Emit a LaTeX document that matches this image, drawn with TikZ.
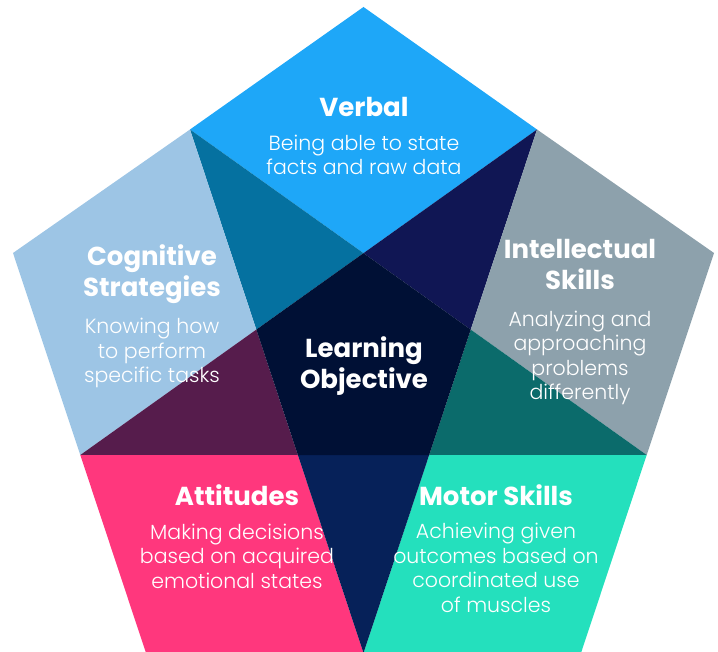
\documentclass[tikz,border=0pt]{standalone}
\usepackage{fontspec}
\setmainfont{Poppins}
\newfontfamily\lightfont{Poppins Light}
\definecolor{cverbal}{HTML}{1EA7F8}
\definecolor{cultl}{HTML}{0571A0}
\definecolor{cultr}{HTML}{101654}
\definecolor{ccog}{HTML}{9DC5E5}
\definecolor{cint}{HTML}{8DA1AC}
\definecolor{ccenter}{HTML}{001035}
\definecolor{cllpurple}{HTML}{561C4C}
\definecolor{clrteal}{HTML}{0B6B6B}
\definecolor{catt}{HTML}{FF377D}
\definecolor{cmot}{HTML}{24E0BD}
\definecolor{cbot}{HTML}{062159}
\tikzset{
  ttl/.style={text=white, font=\bfseries\fontsize{26}{31}\selectfont, align=center, inner sep=0pt},
  body/.style={text=white, font=\lightfont\fontsize{20.5}{24.5}\selectfont, align=center, inner sep=0pt},
}
\begin{document}
\begin{tikzpicture}[x=1pt,y=-1pt]
\useasboundingbox (0,0) rectangle (718,652);
\coordinate (T) at (363.5,7);
\coordinate (PL) at (13,253);
\coordinate (PR) at (714,253);
\coordinate (BL) at (146,653);
\coordinate (BR) at (581,653);
\coordinate (M1) at (190,129.5);
\coordinate (M2) at (537,129.5);
\coordinate (M5) at (80.3,455);
\coordinate (M3) at (646.7,455);
\coordinate (M4) at (363.5,653);
\coordinate (C0) at (intersection of M1--M3 and M2--M5);
\coordinate (L1) at (intersection of M1--M4 and M2--M5);
\coordinate (R1) at (intersection of M2--M4 and M1--M3);
\coordinate (D1) at (intersection of M1--M4 and M5--M3);
\coordinate (D2) at (intersection of M2--M4 and M5--M3);
% regions
\fill[cverbal] (T) -- (M1) -- (C0) -- (M2) -- cycle;
\fill[cultl] (M1) -- (C0) -- (L1) -- cycle;
\fill[cultr] (M2) -- (C0) -- (R1) -- cycle;
\fill[ccog] (PL) -- (M1) -- (L1) -- (M5) -- cycle;
\fill[cint] (PR) -- (M2) -- (R1) -- (M3) -- cycle;
\fill[cllpurple] (M5) -- (L1) -- (D1) -- cycle;
\fill[clrteal] (M3) -- (R1) -- (D2) -- cycle;
\fill[catt] (M5) -- (D1) -- (M4) -- (BL) -- cycle;
\fill[cmot] (M3) -- (D2) -- (M4) -- (BR) -- cycle;
\fill[cbot] (D1) -- (D2) -- (M4) -- cycle;
\fill[ccenter] (C0) -- (L1) -- (D1) -- (D2) -- (R1) -- cycle;
% texts
\node[ttl] (verbal) at (364,107) {Verbal};
\node[body] (verbalb) at (364,155) {Being able to state\\facts and raw data};
\node[ttl] (cog) at (152,274) {Cognitive\\Strategies};
\node[body] (cogb) at (152,353) {Knowing how\\to perform\\specific tasks};
\node[ttl] (int) at (580,264) {Intellectual\\Skills};
\node[body] (intb) at (580,358) {Analyzing and\\approaching\\problems\\differently};
\node[ttl] (lo) at (364,366) {Learning\\Objective};
\node[ttl] (att) at (237,495) {Attitudes};
\node[body] (attb) at (237,556) {Making decisions\\based on acquired\\emotional states};
\node[ttl] (mot) at (496,495) {Motor Skills};
\node[body] (motb) at (496,568) {Achieving given\\outcomes based on\\coordinated use\\of muscles};
\end{tikzpicture}
\end{document}
